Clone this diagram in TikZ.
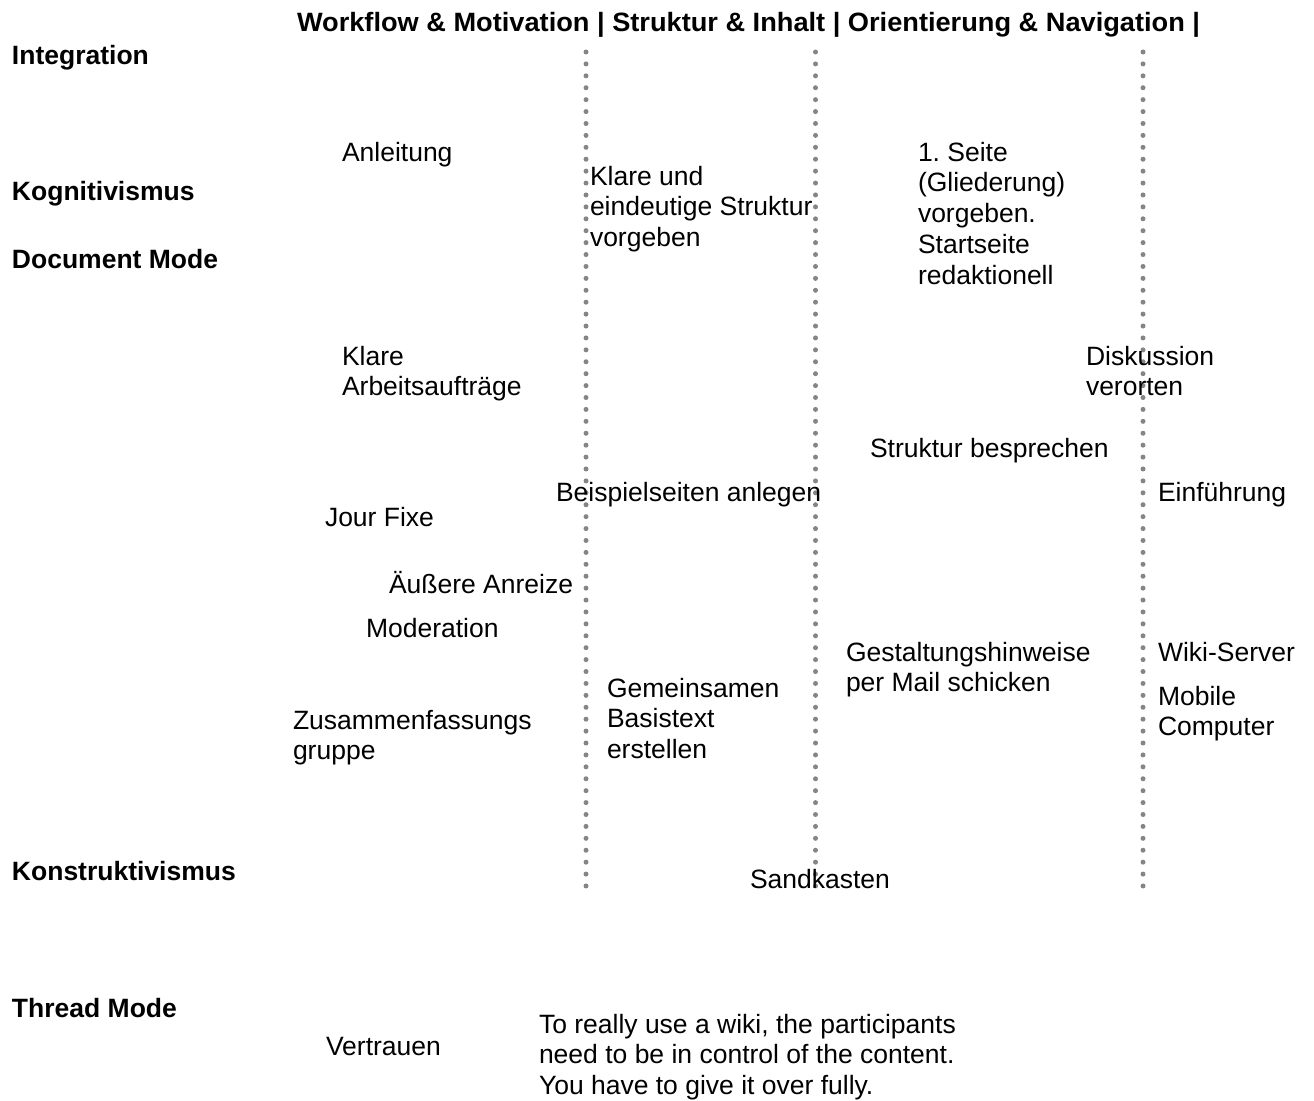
\documentclass[tikz,border=0pt]{standalone}
\usepackage{fontspec}
\usepackage{graphicx}
\setmainfont{Liberation Sans}
\frenchspacing
\definecolor{dotgrey}{HTML}{858585}
\begin{document}
\begin{tikzpicture}[x=1pt,y=-1pt,
  every node/.style={inner sep=0pt,outer sep=0pt,anchor=base west,align=left},
  body/.style={font=\fontsize{26.5}{30.8}\selectfont},
  quote/.style={font=\fontsize{26.5}{30.5}\selectfont},
  axis/.style={font=\fontsize{26.5}{31}\selectfont\bfseries},
  divider/.style={draw=dotgrey,line width=5pt,line cap=round,dash pattern=on 0pt off 11.914pt}]
\useasboundingbox (0,0) rectangle (1314,1100);

% column header
\node (head) at (297,31) {\resizebox{903pt}{\height}{\fontsize{26.5}{31}\selectfont\bfseries
  Workflow \& Motivation | Struktur \& Inhalt | Orientierung \& Navigation |}};

% dotted column dividers
\coordinate (d1t) at (586,52);   \coordinate (d1b) at (586,886);
\coordinate (d2t) at (815.5,52); \coordinate (d2b) at (815.5,886);
\coordinate (d3t) at (1143,52);  \coordinate (d3b) at (1143,886);
\draw[divider] (d1t) -- (d1b);
\draw[divider] (d2t) -- (d2b);
\draw[divider] (d3t) -- (d3b);

% row labels
\node[axis] (integ) at (12,64)   {Integration};
\node[axis] (kogn)  at (12,200)  {Kognitivismus};
\node[axis] (docm)  at (12,268)  {Document Mode};
\node[axis] (konst) at (12,880)  {Konstruktivismus};
\node[axis] (thrd)  at (12,1017) {Thread Mode};

% entries (multi-line nodes sit on the baseline of their last line)
\node[body] (anl)   at (342,161)    {Anleitung};
\node[body] (klare) at (590,246.6)  {Klare und\\eindeutige Struktur\\vorgeben};
\node[body] (seite) at (918,284.2)  {1. Seite\\(Gliederung)\\vorgeben.\\Startseite\\redaktionell};
\node[body] (arb)   at (342,395.8)  {Klare\\Arbeitsaufträge};
\node[body] (disk)  at (1086,395.8) {Diskussion\\verorten};
\node[body] (sbes)  at (870,457)    {Struktur besprechen};
\node[body] (beisp) at (556,501)    {Beispielseiten anlegen};
\node[body] (einf)  at (1158,501)   {Einführung};
\node[body] (jour)  at (325,526)    {Jour Fixe};
\node[body] (anr)   at (389,593)    {Äußere Anreize};
\node[body] (mod)   at (366,637)    {Moderation};
\node[body] (gest)  at (846,691.8)  {Gestaltungshinweise\\per Mail schicken};
\node[body] (wiki)  at (1158,661)   {Wiki-Server};
\node[body] (mob)   at (1158,735.8) {Mobile\\Computer};
\node[body] (gem)   at (607,758.6)  {Gemeinsamen\\Basistext\\erstellen};
\node[body] (zus)   at (293,759.8)  {Zusammenfassungs\\gruppe};
\node[body] (sand)  at (750,888)    {Sandkasten};
\node[body] (vert)  at (326,1055)   {Vertrauen};
\node[quote] (cit)  at (539,1094)   {To really use a wiki, the participants\\need to be in control of the content.\\You have to give it over fully.};
\end{tikzpicture}
\end{document}
